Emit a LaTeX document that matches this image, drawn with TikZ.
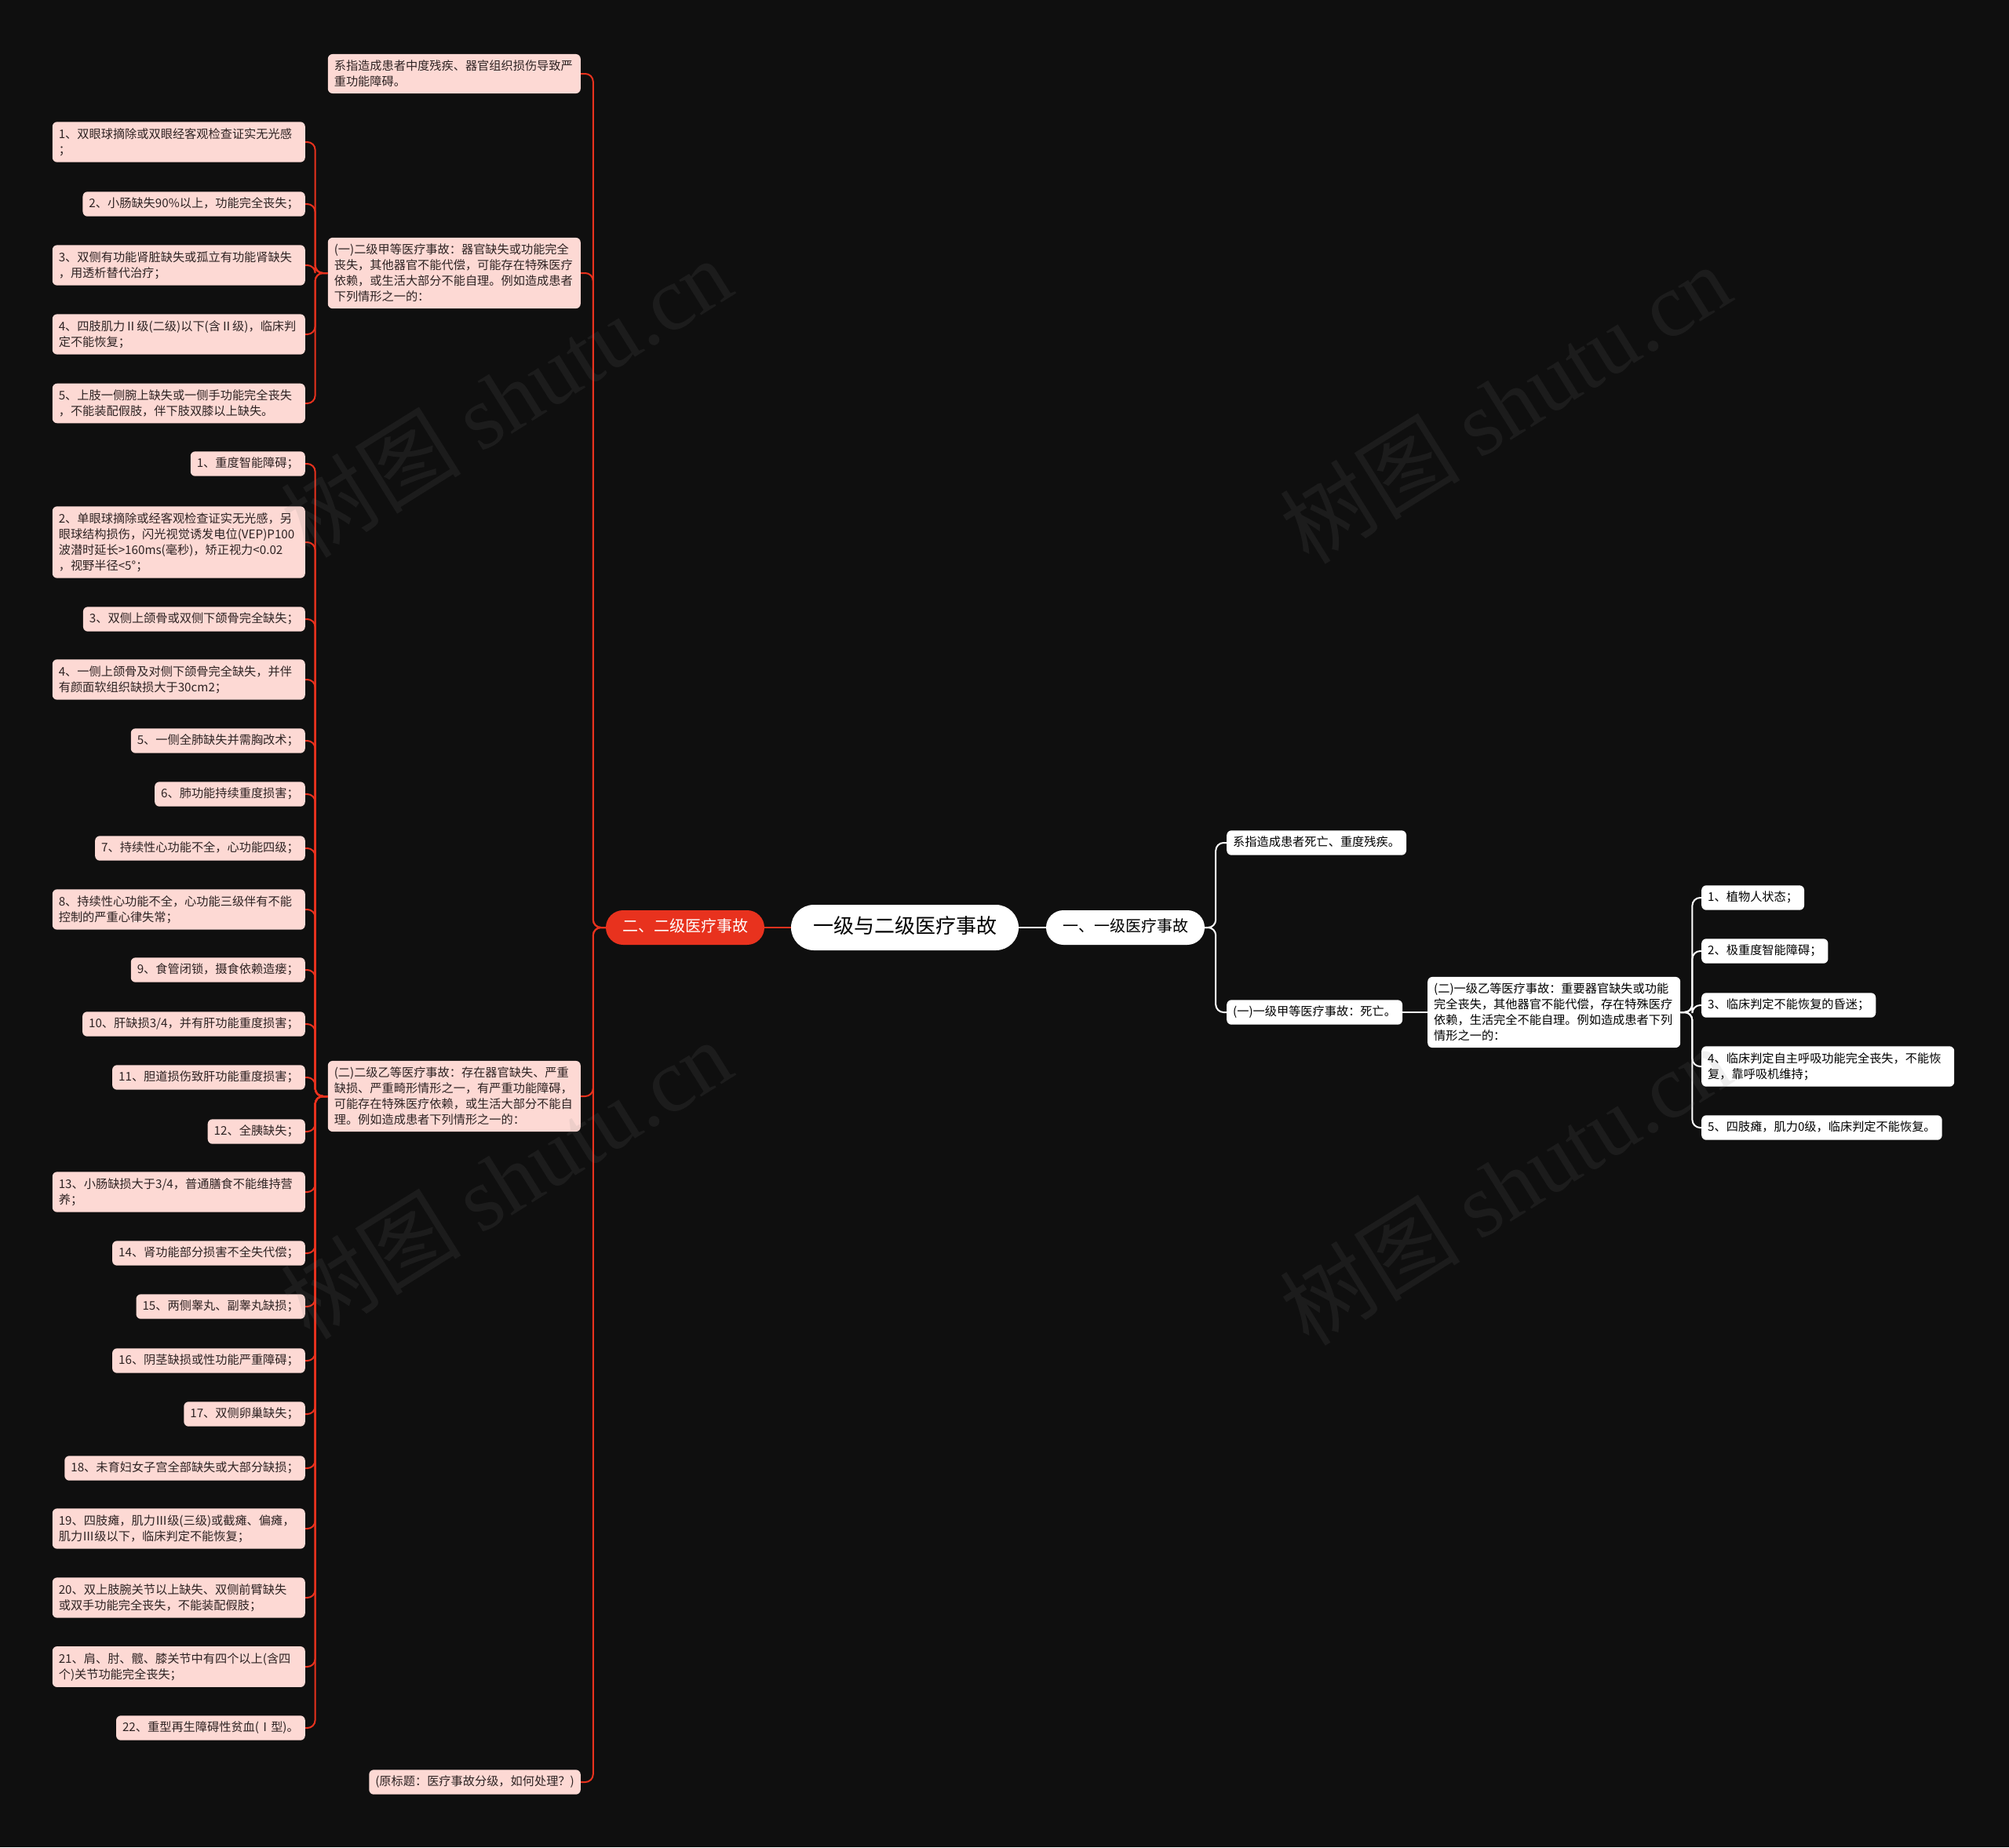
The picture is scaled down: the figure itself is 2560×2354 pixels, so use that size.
\documentclass[tikz,border=0pt]{standalone}
\usepackage{fontspec}
\setmainfont{Noto Sans CJK SC}
\newfontfamily\wmfont{Liberation Serif}

\definecolor{bgc}{HTML}{0F0F0F}
\definecolor{pinkc}{HTML}{FDD9D4}
\definecolor{redc}{HTML}{E8321E}
\definecolor{leaftxt}{HTML}{2E2323}

\tikzset{
  leaf/.style={fill=pinkc, text=leaftxt, rounded corners=6pt, inner xsep=8pt, inner ysep=8pt,
    align=left, font=\fontsize{15.2}{20}\selectfont},
  one/.style={text height=11.8pt, text depth=3.6pt},
  wide/.style={text width=306pt},
  wleaf/.style={leaf, fill=white, text=black},
  pill/.style={rounded corners=22pt, inner xsep=21pt, inner ysep=12pt, text height=15pt, text depth=5pt,
    font=\fontsize{20}{24}\selectfont},
  redline/.style={draw=redc, line width=2pt, rounded corners=10pt},
  whiteline/.style={draw=white, line width=2pt, rounded corners=10pt},
  wm/.style={text=gray, opacity=0.12, rotate=32, font=\fontsize{115}{115}\selectfont}
}

\begin{document}
\begin{tikzpicture}[x=1pt, y=-1pt]
  \fill[bgc] (0,0) rectangle (2560,2354);
  \useasboundingbox (0,0) rectangle (2560,2354);

  % centre
  \node[fill=white, text=black, rounded corners=29pt, inner xsep=28pt, inner ysep=16pt,
    text height=20pt, text depth=6pt, font=\fontsize{26}{30}\selectfont] (root) at (1153,1182) {一级与二级医疗事故};
  \node[pill, fill=white, text=black] (lvA) at (1434,1182) {一、一级医疗事故};
  \node[pill, fill=redc, text=white] (lvB) at (873,1182) {二、二级医疗事故};

  % right side
  \node[wleaf, one, anchor=west] (a1) at (1563,1074) {系指造成患者死亡、重度残疾。};
  \node[wleaf, one, anchor=west] (a2) at (1563,1290) {(一)一级甲等医疗事故：死亡。};
  \node[wleaf, wide, anchor=west] (a3) at (1819,1290) {(二)一级乙等医疗事故：重要器官缺失或功能\\完全丧失，其他器官不能代偿，存在特殊医疗\\依赖，生活完全不能自理。例如造成患者下列\\情形之一的：};
  \node[wleaf, one, anchor=west] (a3c1) at (2168,1144) {1、植物人状态；};
  \node[wleaf, one, anchor=west] (a3c2) at (2168,1212) {2、极重度智能障碍；};
  \node[wleaf, one, anchor=west] (a3c3) at (2168,1281) {3、临床判定不能恢复的昏迷；};
  \node[wleaf, wide, anchor=west] (a3c4) at (2168,1359) {4、临床判定自主呼吸功能完全丧失，不能恢\\复，靠呼吸机维持；};
  \node[wleaf, one, anchor=west] (a3c5) at (2168,1437) {5、四肢瘫，肌力0级，临床判定不能恢复。};

  % left side, second column
  \node[leaf, wide, anchor=east] (b1) at (740,94) {系指造成患者中度残疾、器官组织损伤导致严\\重功能障碍。};
  \node[leaf, wide, anchor=east] (b2) at (740,348) {(一)二级甲等医疗事故：器官缺失或功能完全\\丧失，其他器官不能代偿，可能存在特殊医疗\\依赖，或生活大部分不能自理。例如造成患者\\下列情形之一的：};
  \node[leaf, wide, anchor=east] (b3) at (740,1397) {(二)二级乙等医疗事故：存在器官缺失、严重\\缺损、严重畸形情形之一，有严重功能障碍，\\可能存在特殊医疗依赖，或生活大部分不能自\\理。例如造成患者下列情形之一的：};
  \node[leaf, one, anchor=east] (b4) at (740,2271) {(原标题：医疗事故分级，如何处理？)};

  % left side, items of (一)
  \node[leaf, wide, anchor=east] (b2c1) at (389,181) {1、双眼球摘除或双眼经客观检查证实无光感\\；};
  \node[leaf, one, anchor=east] (b2c2) at (389,260) {2、小肠缺失90\%以上，功能完全丧失；};
  \node[leaf, wide, anchor=east] (b2c3) at (389,338) {3、双侧有功能肾脏缺失或孤立有功能肾缺失\\，用透析替代治疗；};
  \node[leaf, wide, anchor=east] (b2c4) at (389,426) {4、四肢肌力Ⅱ级(二级)以下(含Ⅱ级)，临床判\\定不能恢复；};
  \node[leaf, wide, anchor=east] (b2c5) at (389,514) {5、上肢一侧腕上缺失或一侧手功能完全丧失\\，不能装配假肢，伴下肢双膝以上缺失。};

  % left side, items of (二)
  \node[leaf, one, anchor=east] (b3c1) at (389,591) {1、重度智能障碍；};
  \node[leaf, wide, anchor=east] (b3c2) at (389,691) {2、单眼球摘除或经客观检查证实无光感，另\\眼球结构损伤，闪光视觉诱发电位(VEP)P100\\波潜时延长>160ms(毫秒)，矫正视力<0.02\\，视野半径<5°；};
  \node[leaf, one, anchor=east] (b3c3) at (389,789) {3、双侧上颌骨或双侧下颌骨完全缺失；};
  \node[leaf, wide, anchor=east] (b3c4) at (389,866) {4、一侧上颌骨及对侧下颌骨完全缺失，并伴\\有颜面软组织缺损大于30cm2；};
  \node[leaf, one, anchor=east] (b3c5) at (389,944) {5、一侧全肺缺失并需胸改术；};
  \node[leaf, one, anchor=east] (b3c6) at (389,1012) {6、肺功能持续重度损害；};
  \node[leaf, one, anchor=east] (b3c7) at (389,1081) {7、持续性心功能不全，心功能四级；};
  \node[leaf, wide, anchor=east] (b3c8) at (389,1159) {8、持续性心功能不全，心功能三级伴有不能\\控制的严重心律失常；};
  \node[leaf, one, anchor=east] (b3c9) at (389,1236) {9、食管闭锁，摄食依赖造瘘；};
  \node[leaf, one, anchor=east] (b3c10) at (389,1305) {10、肝缺损3/4，并有肝功能重度损害；};
  \node[leaf, one, anchor=east] (b3c11) at (389,1373) {11、胆道损伤致肝功能重度损害；};
  \node[leaf, one, anchor=east] (b3c12) at (389,1442) {12、全胰缺失；};
  \node[leaf, wide, anchor=east] (b3c13) at (389,1519) {13、小肠缺损大于3/4，普通膳食不能维持营\\养；};
  \node[leaf, one, anchor=east] (b3c14) at (389,1597) {14、肾功能部分损害不全失代偿；};
  \node[leaf, one, anchor=east] (b3c15) at (389,1665) {15、两侧睾丸、副睾丸缺损；};
  \node[leaf, one, anchor=east] (b3c16) at (389,1734) {16、阴茎缺损或性功能严重障碍；};
  \node[leaf, one, anchor=east] (b3c17) at (389,1802) {17、双侧卵巢缺失；};
  \node[leaf, one, anchor=east] (b3c18) at (389,1871) {18、未育妇女子宫全部缺失或大部分缺损；};
  \node[leaf, wide, anchor=east] (b3c19) at (389,1948) {19、四肢瘫，肌力Ⅲ级(三级)或截瘫、偏瘫，\\肌力Ⅲ级以下，临床判定不能恢复；};
  \node[leaf, wide, anchor=east] (b3c20) at (389,2036) {20、双上肢腕关节以上缺失、双侧前臂缺失\\或双手功能完全丧失，不能装配假肢；};
  \node[leaf, wide, anchor=east] (b3c21) at (389,2124) {21、肩、肘、髋、膝关节中有四个以上(含四\\个)关节功能完全丧失；};
  \node[leaf, one, anchor=east] (b3c22) at (389,2202) {22、重型再生障碍性贫血(Ⅰ型)。};

  % connectors
  \draw[whiteline, line width=2.5pt] (root.east) -- (lvA.west);
  \draw[redline, line width=2.5pt] (root.west) -- (lvB.east);
  \foreach \n in {a1,a2}
    \draw[whiteline] (lvA.east) -- ++(14,0) |- (\n.west);
  \draw[whiteline] (a2.east) -- (a3.west);
  \foreach \i in {1,...,5}
    \draw[whiteline] (a3.east) -- ++(15,0) |- (a3c\i.west);
  \foreach \n in {b1,b2,b3,b4}
    \draw[redline] (lvB.west) -- ++(-16,0) |- (\n.east);
  \foreach \i in {1,...,5}
    \draw[redline] (b2.west) -- ++(-16,0) |- (b2c\i.east);
  \foreach \i in {1,...,22}
    \draw[redline] (b3.west) -- ++(-16,0) |- (b3c\i.east);

  % watermark
  \foreach \x/\y in {645/506, 1918/514, 645/1502, 1918/1510}
    \node[wm] (wm) at (\x,\y) {树图 {\wmfont shutu.cn}};
\end{tikzpicture}
\end{document}
